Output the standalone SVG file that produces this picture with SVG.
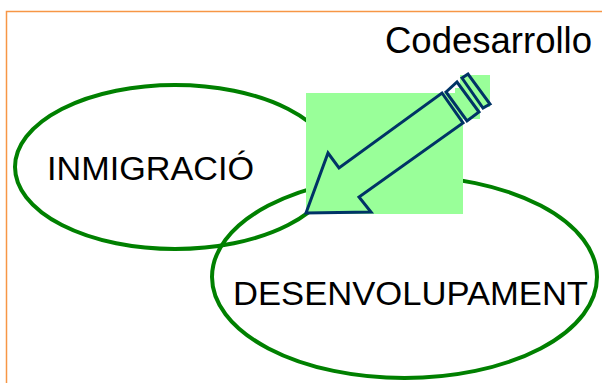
<svg xmlns="http://www.w3.org/2000/svg" width="602" height="383" viewBox="0 0 602 383">
<style>
.ell{fill:none;stroke:#008000;stroke-width:4}
.lbl{font-family:"Liberation Sans",Arial,sans-serif;fill:#000}
.arr{fill:none;stroke:#003366;stroke-width:3;stroke-linejoin:miter}
</style>
<rect width="602" height="383" fill="#fff"/>
<path d="M6.5 390 V11.5 H610" fill="none" stroke="#f79646" stroke-width="1.5"/>
<g id="inmigracio">
<ellipse class="ell" cx="175" cy="167" rx="160" ry="82"/>
<text class="lbl" x="47" y="180" font-size="34" textLength="207" lengthAdjust="spacingAndGlyphs">INMIGRACIÓ</text>
</g>
<g id="desenvolupament">
<ellipse class="ell" cx="404.5" cy="277" rx="192.5" ry="101"/>
<text class="lbl" x="233" y="305" font-size="34" textLength="355" lengthAdjust="spacingAndGlyphs">DESENVOLUPAMENT</text>
</g>
<g id="codesarrollo">
<rect x="306" y="93" width="157" height="121" fill="#99ff99"/>
<rect x="460" y="75" width="30" height="32" fill="#99ff99"/>
<rect x="455" y="88" width="25" height="31" fill="#99ff99"/>
<path class="arr" d="M306 213 L328 153 L339 168 L442 93 L463 123 L359 197 L371 212 Z"/>
<path class="arr" d="M446 92 L457 82 L479 112 L467 121 Z"/>
<path class="arr" d="M462 78 L468 74 L490 104 L483 108 Z"/>
<text class="lbl" x="385" y="53" font-size="36" textLength="207" lengthAdjust="spacingAndGlyphs">Codesarrollo</text>
</g>
</svg>
